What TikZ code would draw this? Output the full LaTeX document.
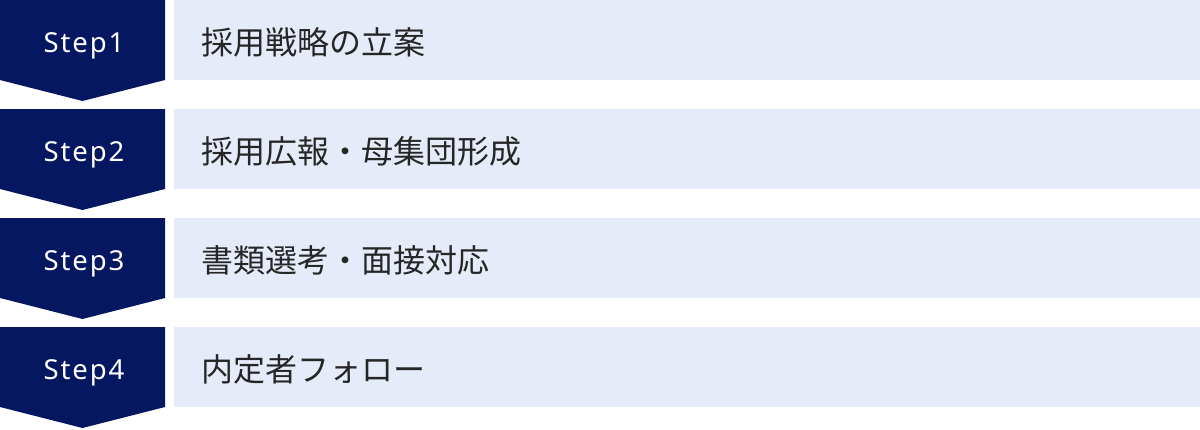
\documentclass[tikz,border=0pt]{standalone}
\usepackage{fontspec}
\setmainfont{Noto Sans}
\newfontfamily\stepfont[LetterSpace=7]{Noto Sans}
\newfontfamily\jpfont{Noto Sans CJK JP}
\definecolor{navy}{HTML}{041760}
\definecolor{pale}{HTML}{E5EBF8}
\begin{document}
\begin{tikzpicture}[x=1pt,y=-1pt,
  chev/.style={fill=navy,draw=none},
  bar/.style={fill=pale,draw=none},
  steplabel/.style={text=white,font=\stepfont\fontsize{27.5}{32}\selectfont,inner sep=0pt,anchor=base},
  barlabel/.style={text=black!85,font=\jpfont\fontsize{32}{38}\selectfont,inner sep=0pt,anchor=base west}]
\useasboundingbox (0,0) rectangle (1200,429);
\foreach \i/\t [count=\n from 0] in {1/採用戦略の立案,2/採用広報・母集団形成,3/書類選考・面接対応,4/内定者フォロー}{
  \pgfmathsetmacro{\y}{109*\n}
  \fill[chev] (0,\y) -- (165,\y) -- (165,\y+80) -- (82.5,\y+101) -- (0,\y+80) -- cycle;
  \fill[bar] (174,\y) rectangle (1200,\y+80);
  \node[steplabel] (s\i) at (84,\y+52) {Step\i};
  \node[barlabel] (b\i) at (201,\y+54.5) {\t};
}
\end{tikzpicture}
\end{document}
